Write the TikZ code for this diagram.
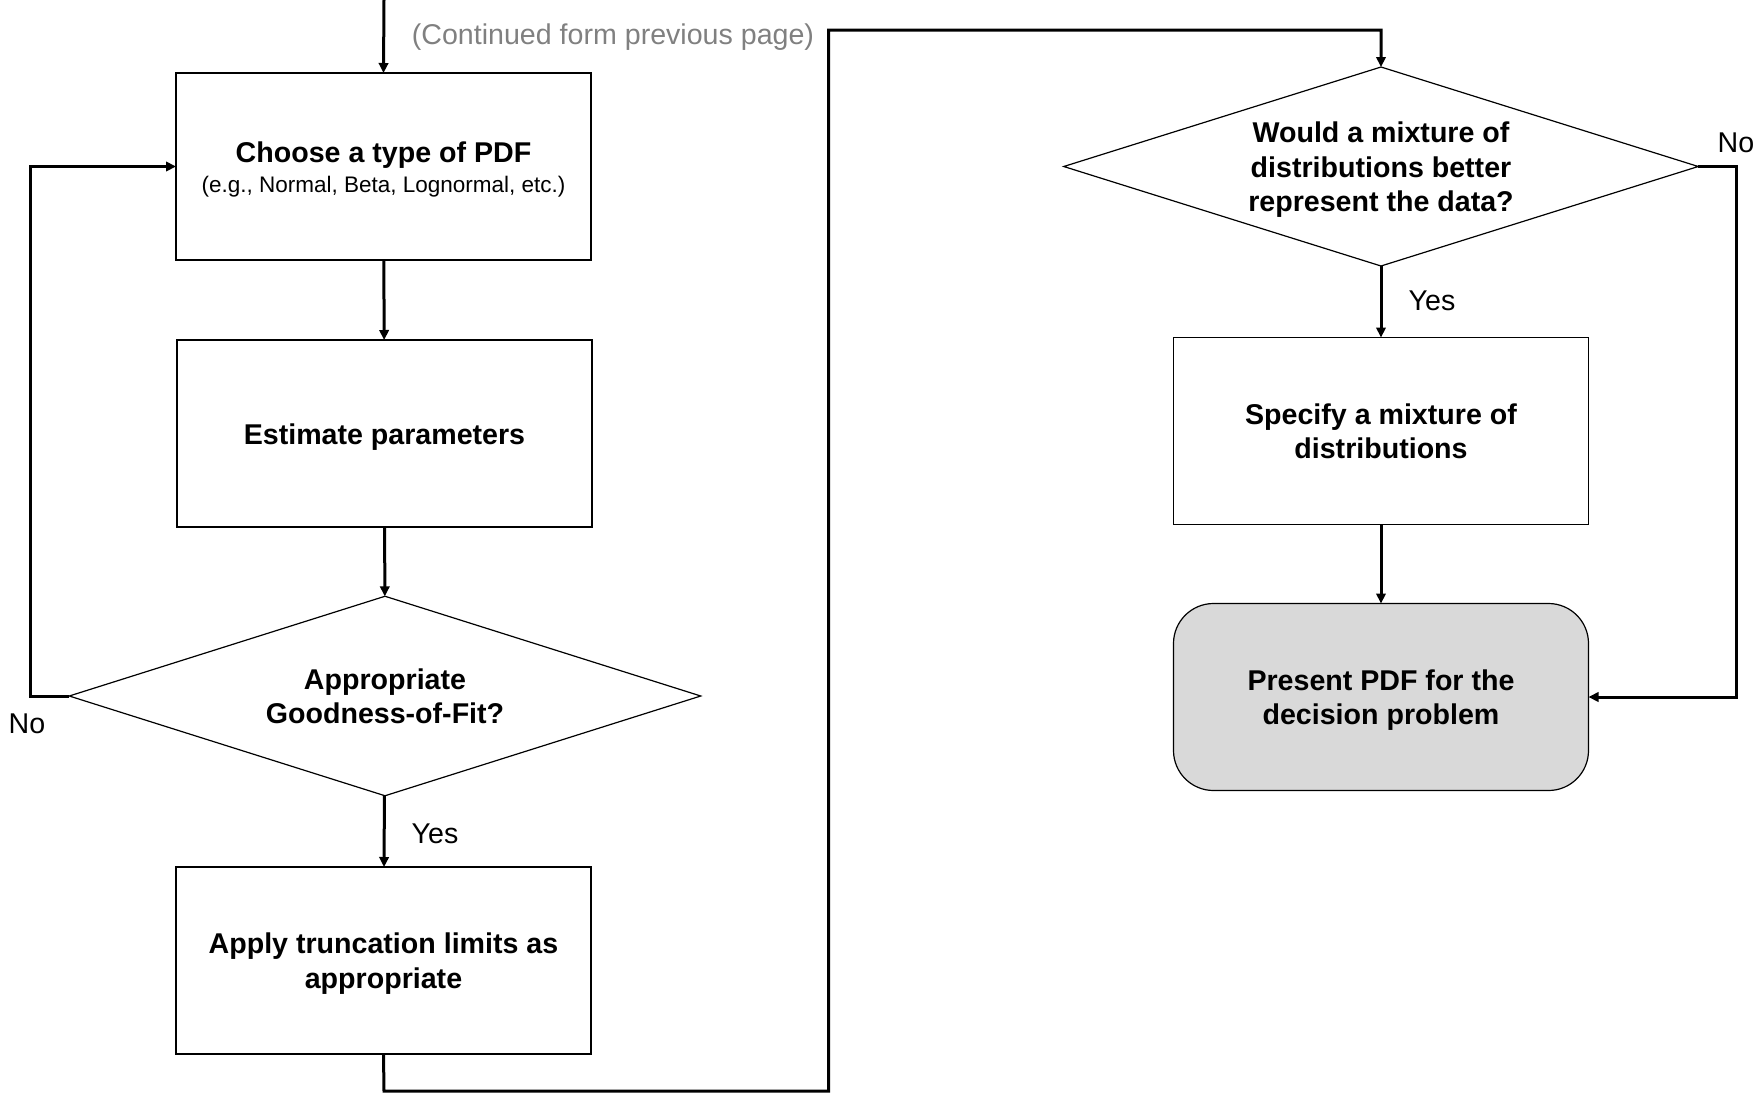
\documentclass[tikz,border=0pt]{standalone}
\usepackage{fontspec}
\setmainfont{Liberation Sans}
\usetikzlibrary{shapes.geometric,arrows.meta}
\definecolor{boxgray}{RGB}{217,217,217}
\definecolor{notegray}{RGB}{128,128,128}
\newcommand{\lowtext}[2][1.8pt]{\raisebox{-#1}[\height][\depth]{\begin{tabular}{@{}c@{}}#2\end{tabular}}}
\begin{document}
\begin{tikzpicture}[x=0.5pt,y=-0.5pt,
  mainfont/.style={font=\bfseries\fontsize{14.3}{17.4}\selectfont},
  procbox/.style={draw, line width=0.6pt, minimum width=207.5pt, minimum height=93.5pt,
    inner sep=0pt, outer sep=0pt, align=center, mainfont},
  decision/.style={draw, diamond, line width=0.6pt, inner sep=0pt, outer sep=0pt,
    shape aspect=3.2, align=center, mainfont},
  conn/.style={line width=1.5pt, -{Triangle[length=5pt,width=4.7pt]}},
  lbl/.style={font=\fontsize{14.3}{17.4}\selectfont, inner sep=0pt}]
\useasboundingbox (0,0) rectangle (1758,1093);

\node[procbox] (choose) at (383.5,166.5) {\lowtext[1.95pt]{Choose a type of PDF\\[-2.7pt]
  {\mdseries\fontsize{11.25}{13}\selectfont (e.g., Normal, Beta, Lognormal, etc.)}}};
\node[procbox] (estimate) at (384.5,433.5) {\lowtext{Estimate parameters}};
\node[decision, minimum width=315.75pt, minimum height=99.75pt] (fit) at (385,696)
  {\lowtext{Appropriate\\Goodness-of-Fit?}};
\node[procbox] (trunc) at (383.5,960.5) {\lowtext{Apply truncation limits as\\appropriate}};
\node[decision, minimum width=317.25pt, minimum height=99.5pt] (mix) at (1381,166.5)
  {\lowtext{Would a mixture of\\distributions better\\represent the data?}};
\node[procbox] (spec) at (1381,431) {\lowtext{Specify a mixture of\\distributions}};
\node[procbox, fill=boxgray, rounded corners=20pt] (present) at (1381,697)
  {\lowtext{Present PDF for the\\decision problem}};

\node[lbl, text=notegray] (cont) at (613,37) {(Continued form previous page)};
\node[lbl] (no1) at (27,723.5) {No};
\node[lbl] (yes1) at (435,833.5) {Yes};
\node[lbl] (yes2) at (1432,300.5) {Yes};
\node[lbl] (no2) at (1736,142.5) {No};

\coordinate (topin) at (384,0);
\coordinate (b1) at (384,1091);
\coordinate (b2) at (828.6,1091);
\coordinate (b3) at (828.6,30);
\coordinate (b4) at (1381,30);
\coordinate (l1) at (30,696);
\coordinate (l2) at (30,166.5);
\coordinate (r1) at (1736,166.5);
\coordinate (r2) at (1736,697);

\draw[conn] (topin) -- (choose.north);
\draw[conn] (choose) -- (estimate);
\draw[conn] (estimate) -- (fit);
\draw[conn] (fit) -- (trunc);
\draw[conn] (trunc.south) -- (b1) -- (b2) -- (b3) -- (b4) -- (mix.north);
\draw[conn] (fit.west) -- (l1) -- (l2) -- (choose.west);
\draw[conn] (mix) -- (spec);
\draw[conn] (spec) -- (present);
\draw[conn] (mix.east) -- (r1) -- (r2) -- (present.east);
\end{tikzpicture}
\end{document}
